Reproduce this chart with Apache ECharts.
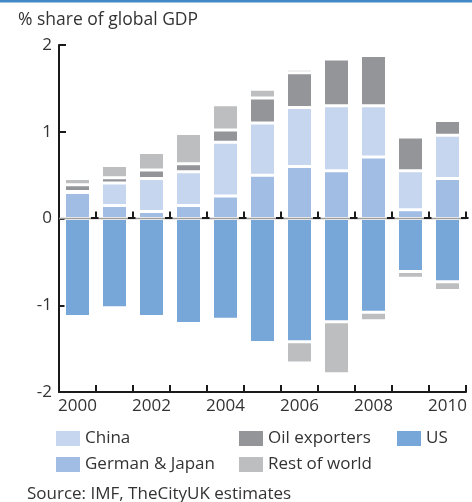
<!DOCTYPE html>
<html>
<head>
<meta charset="utf-8">
<script src="https://cdn.jsdelivr.net/npm/echarts@6/dist/echarts.min.js"></script>
<style>
  html, body { margin: 0; padding: 0; background: #fff; }
  #chart { width: 472px; height: 502px; }
</style>
</head>
<body>
<div id="chart"></div>
<script>
// Current account balances, % share of global GDP
const years = ['2000', '2001', '2002', '2003', '2004', '2005', '2006', '2007', '2008', '2009', '2010'];
const yTicks = [-2, -1, 0, 1, 2];
const germanJapan = [0.30, 0.15, 0.08, 0.15, 0.26, 0.50, 0.60, 0.55, 0.71, 0.10, 0.46];
const china = [0.01, 0.26, 0.38, 0.39, 0.62, 0.60, 0.68, 0.75, 0.59, 0.45, 0.50];
const oilExporters = [0.08, 0.06, 0.10, 0.09, 0.14, 0.29, 0.40, 0.54, 0.58, 0.39, 0.17];
const restOfWorldSurplus = [0.07, 0.14, 0.20, 0.35, 0.29, 0.10, 0.04, null, null, null, null];
const us = [-1.13, -1.03, -1.13, -1.21, -1.16, -1.43, -1.42, -1.19, -1.08, -0.61, -0.73];
const restOfWorldDeficit = [null, null, null, null, null, null, -0.245, -0.60, -0.10, -0.08, -0.10];

const FONT = "'Open Sans', 'Noto Sans', sans-serif";
const TEXT = '#333';
const AXIS = '#1a1a1a';
const ZERO_LINE = '#9d9d9d';
const colors = {
  china: '#c5d6ee',
  germanJapan: '#a1bde3',
  us: '#77a6d8',
  oil: '#939598',
  rest: '#bcbec0'
};

function barSeries(name, data, color) {
  return {
    name: name,
    type: 'bar',
    stack: 'balance',
    data: data,
    barWidth: 26,
    itemStyle: { color: color, borderColor: '#fff', borderWidth: 1.5 },
    emphasis: { disabled: true }
  };
}

// Zero line with small upright ticks at every category boundary
function renderZeroLine(params, api) {
  const i = params.dataIndex;
  const p = api.coord([api.value(0), 0]);
  const band = api.size([1, 0])[0];
  const cs = params.coordSys;
  const y0 = p[1];
  const children = [];
  if (i === 0) {
    children.push({
      type: 'line',
      shape: { x1: cs.x, y1: y0, x2: cs.x + cs.width, y2: y0 },
      style: { stroke: ZERO_LINE, lineWidth: 1.4 }
    });
  }
  const edges = [p[0] - band / 2];
  if (i === years.length - 1) edges.push(p[0] + band / 2);
  edges.forEach(function (x) {
    if (x <= cs.x + 1) return;
    children.push({
      type: 'line',
      shape: { x1: x, y1: y0 - 0.5, x2: x, y2: y0 - 7 },
      style: { stroke: AXIS, lineWidth: 2 }
    });
    children.push({
      type: 'line',
      shape: { x1: x - 5, y1: y0 - 0.5, x2: x + 2.5, y2: y0 - 0.5 },
      style: { stroke: AXIS, lineWidth: 2 }
    });
  });
  return { type: 'group', children: children };
}

const legendBase = {
  orient: 'vertical',
  top: 430,
  padding: 0,
  icon: 'rect',
  itemWidth: 24,
  itemHeight: 15,
  itemGap: 9,
  selectedMode: false,
  itemStyle: { borderWidth: 0 },
  textStyle: { fontFamily: FONT, fontSize: 17, color: TEXT, lineHeight: 17 }
};

const chart = echarts.init(document.getElementById('chart'), null, { renderer: 'canvas' });
chart.setOption({
  animation: false,
  backgroundColor: '#fff',
  graphic: [{
    type: 'rect',
    left: 0, top: 0,
    shape: { width: 472, height: 2.5 },
    style: { fill: '#4287c6' }
  }],
  title: {
    text: '% share of global GDP',
    left: 13, top: 6,
    textStyle: { fontFamily: FONT, fontSize: 17.5, fontWeight: 'normal', color: TEXT }
  },
  legend: [
    Object.assign({}, legendBase, { left: 56, data: ['China', 'German & Japan'] }),
    Object.assign({}, legendBase, { left: 239, data: ['Oil exporters', 'Rest of world'] }),
    Object.assign({}, legendBase, { left: 397, data: ['US'] })
  ],
  grid: { left: 59, right: 6, top: 45, bottom: 110 },
  xAxis: {
    type: 'category',
    data: years,
    position: 'bottom',
    axisLine: { show: true, onZero: false, lineStyle: { color: AXIS, width: 2 } },
    axisTick: { show: true, inside: true, length: 7, interval: 0, lineStyle: { color: AXIS, width: 2 } },
    axisLabel: { interval: 1, margin: 6, fontFamily: FONT, fontSize: 17, color: TEXT },
    splitLine: { show: false }
  },
  yAxis: {
    type: 'value',
    min: yTicks[0],
    max: yTicks[yTicks.length - 1],
    interval: 1,
    axisLine: { show: true, lineStyle: { color: AXIS, width: 2 } },
    axisTick: { show: true, inside: true, length: 7, lineStyle: { color: AXIS, width: 2 } },
    axisLabel: { margin: 7, fontFamily: FONT, fontSize: 17, color: TEXT },
    splitLine: { show: false }
  },
  series: [
    barSeries('German & Japan', germanJapan, colors.germanJapan),
    barSeries('China', china, colors.china),
    barSeries('Oil exporters', oilExporters, colors.oil),
    barSeries('US', us, colors.us),
    barSeries('Rest of world', restOfWorldSurplus, colors.rest),
    barSeries('Rest of world', restOfWorldDeficit, colors.rest),
    {
      type: 'custom',
      name: 'zero',
      z: 5,
      silent: true,
      renderItem: renderZeroLine,
      data: years.map(function (y) { return [y, 0]; }),
      encode: { x: 0, y: 1 }
    }
  ]
});
</script>
<div style="position:absolute;left:27px;top:483px;font-family:'Open Sans','Noto Sans',sans-serif;font-size:17px;color:#333;line-height:19px;">Source: IMF, TheCityUK estimates</div>
</body>
</html>
